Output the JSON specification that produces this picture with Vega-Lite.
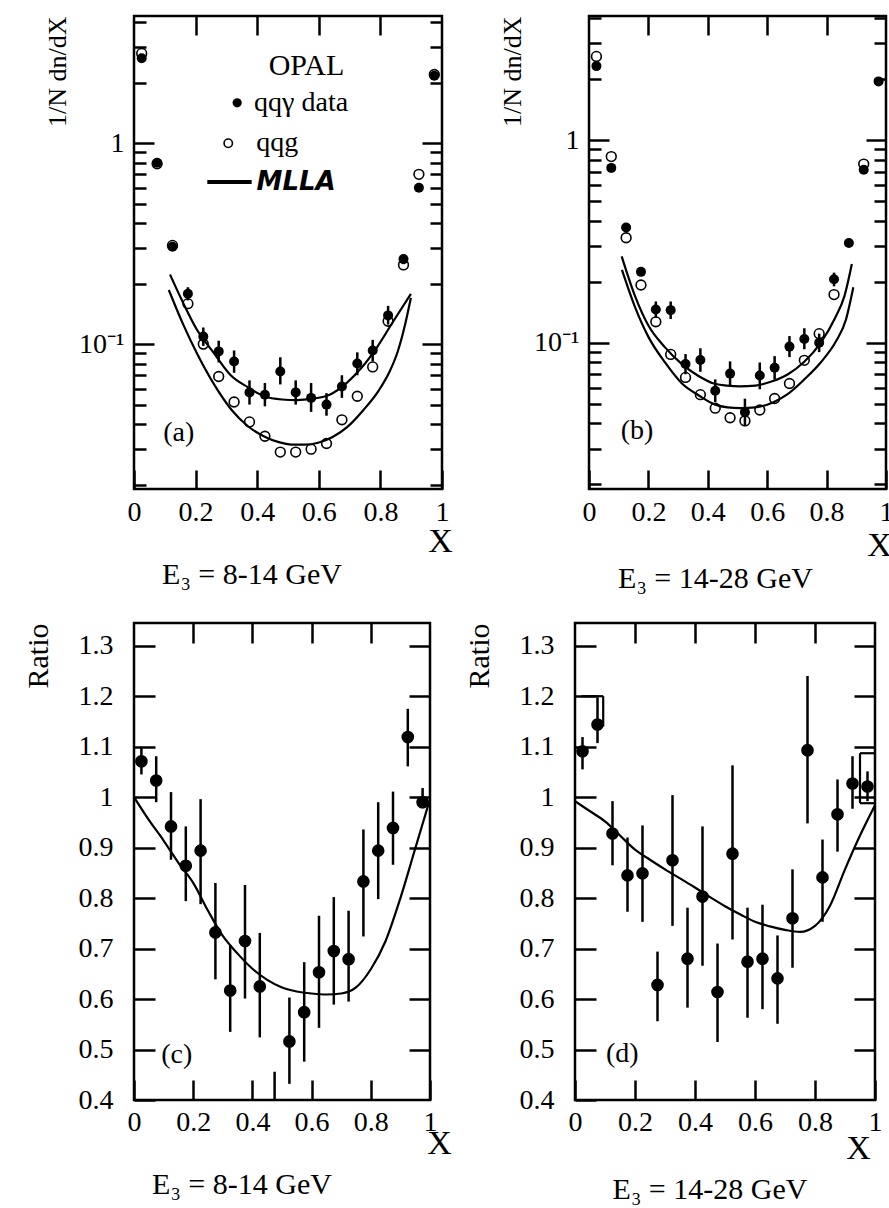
{
  "$schema": "https://vega.github.io/schema/vega-lite/v6.json",
  "background": "white",
  "padding": {"left": 21, "top": 2, "right": 0, "bottom": 0},
  "config": {
    "font": "Liberation Serif",
    "view": {"stroke": "black", "strokeWidth": 2.5},
    "axis": {"domain": false, "grid": false, "tickColor": "black", "tickWidth": 2.5, "labelColor": "black", "titleColor": "black", "labelFont": "Liberation Serif", "titleFont": "Liberation Serif", "labelFontSize": 28, "titleFontWeight": "normal", "labelFlush": false, "labelOverlap": false},
    "title": {"font": "Liberation Serif", "fontSize": 30, "fontWeight": "normal", "color": "black"},
    "text": {"font": "Liberation Serif", "color": "black"}
  },
  "datasets": {
    "a_pts": [
      {"x": 0.025, "data": 2.65, "lo": 2.65, "hi": 2.65, "qqg": 2.8},
      {"x": 0.075, "data": 0.80, "lo": 0.80, "hi": 0.80, "qqg": 0.79},
      {"x": 0.125, "data": 0.305, "lo": 0.305, "hi": 0.305, "qqg": 0.31},
      {"x": 0.175, "data": 0.178, "lo": 0.165, "hi": 0.192, "qqg": 0.159},
      {"x": 0.225, "data": 0.109, "lo": 0.098, "hi": 0.121, "qqg": 0.100},
      {"x": 0.275, "data": 0.092, "lo": 0.081, "hi": 0.104, "qqg": 0.069},
      {"x": 0.325, "data": 0.082, "lo": 0.072, "hi": 0.093, "qqg": 0.0515},
      {"x": 0.375, "data": 0.0575, "lo": 0.050, "hi": 0.066, "qqg": 0.041},
      {"x": 0.425, "data": 0.056, "lo": 0.049, "hi": 0.064, "qqg": 0.0348},
      {"x": 0.475, "data": 0.073, "lo": 0.063, "hi": 0.086, "qqg": 0.029},
      {"x": 0.525, "data": 0.0575, "lo": 0.050, "hi": 0.066, "qqg": 0.029},
      {"x": 0.575, "data": 0.054, "lo": 0.046, "hi": 0.064, "qqg": 0.030},
      {"x": 0.625, "data": 0.050, "lo": 0.044, "hi": 0.057, "qqg": 0.032},
      {"x": 0.675, "data": 0.0615, "lo": 0.054, "hi": 0.070, "qqg": 0.042},
      {"x": 0.725, "data": 0.080, "lo": 0.070, "hi": 0.091, "qqg": 0.055},
      {"x": 0.775, "data": 0.093, "lo": 0.082, "hi": 0.105, "qqg": 0.077},
      {"x": 0.825, "data": 0.139, "lo": 0.125, "hi": 0.155, "qqg": 0.130},
      {"x": 0.875, "data": 0.265, "lo": 0.25, "hi": 0.28, "qqg": 0.248},
      {"x": 0.925, "data": 0.60, "lo": 0.60, "hi": 0.60, "qqg": 0.70},
      {"x": 0.975, "data": 2.17, "lo": 2.17, "hi": 2.17, "qqg": 2.2}
    ],
    "a_curves": [
      {"curve": "data", "x": 0.117, "y": 0.222}, {"curve": "data", "x": 0.16, "y": 0.16}, {"curve": "data", "x": 0.203, "y": 0.119}, {"curve": "data", "x": 0.26, "y": 0.09}, {"curve": "data", "x": 0.314, "y": 0.070}, {"curve": "data", "x": 0.37, "y": 0.061}, {"curve": "data", "x": 0.423, "y": 0.055}, {"curve": "data", "x": 0.48, "y": 0.053}, {"curve": "data", "x": 0.529, "y": 0.0526}, {"curve": "data", "x": 0.58, "y": 0.0535}, {"curve": "data", "x": 0.635, "y": 0.056}, {"curve": "data", "x": 0.69, "y": 0.064}, {"curve": "data", "x": 0.74, "y": 0.0767}, {"curve": "data", "x": 0.79, "y": 0.097}, {"curve": "data", "x": 0.842, "y": 0.130}, {"curve": "data", "x": 0.899, "y": 0.178},
      {"curve": "qqg", "x": 0.113, "y": 0.186}, {"curve": "qqg", "x": 0.16, "y": 0.125}, {"curve": "qqg", "x": 0.205, "y": 0.0895}, {"curve": "qqg", "x": 0.26, "y": 0.063}, {"curve": "qqg", "x": 0.317, "y": 0.047}, {"curve": "qqg", "x": 0.37, "y": 0.039}, {"curve": "qqg", "x": 0.426, "y": 0.0345}, {"curve": "qqg", "x": 0.47, "y": 0.0325}, {"curve": "qqg", "x": 0.512, "y": 0.0316}, {"curve": "qqg", "x": 0.555, "y": 0.0316}, {"curve": "qqg", "x": 0.598, "y": 0.0323}, {"curve": "qqg", "x": 0.645, "y": 0.0345}, {"curve": "qqg", "x": 0.692, "y": 0.0386}, {"curve": "qqg", "x": 0.745, "y": 0.047}, {"curve": "qqg", "x": 0.795, "y": 0.0589}, {"curve": "qqg", "x": 0.83, "y": 0.073}, {"curve": "qqg", "x": 0.856, "y": 0.0916}, {"curve": "qqg", "x": 0.88, "y": 0.125}, {"curve": "qqg", "x": 0.899, "y": 0.17}
    ],
    "b_pts": [
      {"x": 0.025, "data": 2.32, "lo": 2.32, "hi": 2.32, "qqg": 2.59},
      {"x": 0.075, "data": 0.73, "lo": 0.73, "hi": 0.73, "qqg": 0.83},
      {"x": 0.125, "data": 0.371, "lo": 0.371, "hi": 0.371, "qqg": 0.33},
      {"x": 0.175, "data": 0.224, "lo": 0.224, "hi": 0.224, "qqg": 0.193},
      {"x": 0.225, "data": 0.146, "lo": 0.133, "hi": 0.16, "qqg": 0.127},
      {"x": 0.275, "data": 0.145, "lo": 0.131, "hi": 0.16, "qqg": 0.0877},
      {"x": 0.325, "data": 0.0787, "lo": 0.07, "hi": 0.088, "qqg": 0.0675},
      {"x": 0.375, "data": 0.0822, "lo": 0.072, "hi": 0.094, "qqg": 0.0555},
      {"x": 0.425, "data": 0.058, "lo": 0.051, "hi": 0.066, "qqg": 0.0476},
      {"x": 0.475, "data": 0.0705, "lo": 0.061, "hi": 0.081, "qqg": 0.0427},
      {"x": 0.525, "data": 0.0455, "lo": 0.039, "hi": 0.053, "qqg": 0.0412},
      {"x": 0.575, "data": 0.069, "lo": 0.059, "hi": 0.08, "qqg": 0.0466},
      {"x": 0.625, "data": 0.0753, "lo": 0.066, "hi": 0.086, "qqg": 0.0531},
      {"x": 0.675, "data": 0.0958, "lo": 0.085, "hi": 0.108, "qqg": 0.063},
      {"x": 0.725, "data": 0.1045, "lo": 0.093, "hi": 0.118, "qqg": 0.082},
      {"x": 0.775, "data": 0.10, "lo": 0.09, "hi": 0.111, "qqg": 0.111},
      {"x": 0.825, "data": 0.206, "lo": 0.19, "hi": 0.222, "qqg": 0.173},
      {"x": 0.875, "data": 0.311, "lo": 0.311, "hi": 0.311, "qqg": null},
      {"x": 0.925, "data": 0.714, "lo": 0.714, "hi": 0.714, "qqg": 0.762},
      {"x": 0.975, "data": 1.95, "lo": 1.95, "hi": 1.95, "qqg": null}
    ],
    "b_curves": [
      {"curve": "data", "x": 0.11, "y": 0.267}, {"curve": "data", "x": 0.155, "y": 0.17}, {"curve": "data", "x": 0.2, "y": 0.1217}, {"curve": "data", "x": 0.256, "y": 0.095}, {"curve": "data", "x": 0.312, "y": 0.0787}, {"curve": "data", "x": 0.366, "y": 0.069}, {"curve": "data", "x": 0.42, "y": 0.063}, {"curve": "data", "x": 0.465, "y": 0.0615}, {"curve": "data", "x": 0.508, "y": 0.061}, {"curve": "data", "x": 0.56, "y": 0.0615}, {"curve": "data", "x": 0.617, "y": 0.0646}, {"curve": "data", "x": 0.67, "y": 0.07}, {"curve": "data", "x": 0.724, "y": 0.0804}, {"curve": "data", "x": 0.78, "y": 0.1}, {"curve": "data", "x": 0.829, "y": 0.133}, {"curve": "data", "x": 0.86, "y": 0.17}, {"curve": "data", "x": 0.885, "y": 0.245},
      {"curve": "qqg", "x": 0.111, "y": 0.229}, {"curve": "qqg", "x": 0.155, "y": 0.15}, {"curve": "qqg", "x": 0.2, "y": 0.107}, {"curve": "qqg", "x": 0.256, "y": 0.08}, {"curve": "qqg", "x": 0.313, "y": 0.063}, {"curve": "qqg", "x": 0.37, "y": 0.055}, {"curve": "qqg", "x": 0.423, "y": 0.0497}, {"curve": "qqg", "x": 0.466, "y": 0.048}, {"curve": "qqg", "x": 0.51, "y": 0.0476}, {"curve": "qqg", "x": 0.56, "y": 0.048}, {"curve": "qqg", "x": 0.619, "y": 0.0508}, {"curve": "qqg", "x": 0.67, "y": 0.056}, {"curve": "qqg", "x": 0.725, "y": 0.066}, {"curve": "qqg", "x": 0.78, "y": 0.08}, {"curve": "qqg", "x": 0.832, "y": 0.102}, {"curve": "qqg", "x": 0.865, "y": 0.13}, {"curve": "qqg", "x": 0.89, "y": 0.188}
    ],
    "c_pts": [
      {"x": 0.025, "ratio": 1.071, "lo": 1.045, "hi": 1.099},
      {"x": 0.075, "ratio": 1.033, "lo": 0.99, "hi": 1.081},
      {"x": 0.125, "ratio": 0.942, "lo": 0.876, "hi": 1.01},
      {"x": 0.175, "ratio": 0.864, "lo": 0.794, "hi": 0.942},
      {"x": 0.225, "ratio": 0.894, "lo": 0.788, "hi": 0.996},
      {"x": 0.275, "ratio": 0.732, "lo": 0.639, "hi": 0.83},
      {"x": 0.325, "ratio": 0.617, "lo": 0.535, "hi": 0.707},
      {"x": 0.375, "ratio": 0.715, "lo": 0.601, "hi": 0.826},
      {"x": 0.425, "ratio": 0.625, "lo": 0.524, "hi": 0.731},
      {"x": 0.475, "ratio": 0.35, "lo": 0.25, "hi": 0.456},
      {"x": 0.525, "ratio": 0.516, "lo": 0.432, "hi": 0.603},
      {"x": 0.575, "ratio": 0.574, "lo": 0.476, "hi": 0.673},
      {"x": 0.625, "ratio": 0.653, "lo": 0.543, "hi": 0.765},
      {"x": 0.675, "ratio": 0.695, "lo": 0.589, "hi": 0.802},
      {"x": 0.725, "ratio": 0.679, "lo": 0.595, "hi": 0.775},
      {"x": 0.775, "ratio": 0.833, "lo": 0.724, "hi": 0.936},
      {"x": 0.825, "ratio": 0.894, "lo": 0.798, "hi": 0.99},
      {"x": 0.875, "ratio": 0.939, "lo": 0.866, "hi": 1.011},
      {"x": 0.925, "ratio": 1.119, "lo": 1.061, "hi": 1.175},
      {"x": 0.975, "ratio": 0.99, "lo": 0.978, "hi": 1.018}
    ],
    "c_curve": [
      {"x": 0.0, "y": 1.0}, {"x": 0.05, "y": 0.955}, {"x": 0.1, "y": 0.914}, {"x": 0.15, "y": 0.87}, {"x": 0.2, "y": 0.83}, {"x": 0.25, "y": 0.775}, {"x": 0.3, "y": 0.725}, {"x": 0.35, "y": 0.69}, {"x": 0.4, "y": 0.66}, {"x": 0.45, "y": 0.638}, {"x": 0.5, "y": 0.623}, {"x": 0.55, "y": 0.615}, {"x": 0.6, "y": 0.611}, {"x": 0.65, "y": 0.609}, {"x": 0.7, "y": 0.611}, {"x": 0.75, "y": 0.623}, {"x": 0.8, "y": 0.659}, {"x": 0.85, "y": 0.715}, {"x": 0.9, "y": 0.80}, {"x": 0.95, "y": 0.898}, {"x": 1.0, "y": 0.996}
    ],
    "d_pts": [
      {"x": 0.025, "ratio": 1.091, "lo": 1.055, "hi": 1.119},
      {"x": 0.075, "ratio": 1.144, "lo": 1.107, "hi": 1.198},
      {"x": 0.125, "ratio": 0.928, "lo": 0.865, "hi": 0.992},
      {"x": 0.175, "ratio": 0.845, "lo": 0.773, "hi": 0.92},
      {"x": 0.225, "ratio": 0.849, "lo": 0.753, "hi": 0.944},
      {"x": 0.275, "ratio": 0.628, "lo": 0.556, "hi": 0.694},
      {"x": 0.325, "ratio": 0.875, "lo": 0.745, "hi": 1.004},
      {"x": 0.375, "ratio": 0.68, "lo": 0.583, "hi": 0.781},
      {"x": 0.425, "ratio": 0.803, "lo": 0.666, "hi": 0.942},
      {"x": 0.475, "ratio": 0.614, "lo": 0.515, "hi": 0.71},
      {"x": 0.525, "ratio": 0.888, "lo": 0.718, "hi": 1.063},
      {"x": 0.575, "ratio": 0.674, "lo": 0.563, "hi": 0.781},
      {"x": 0.625, "ratio": 0.68, "lo": 0.58, "hi": 0.787},
      {"x": 0.675, "ratio": 0.641, "lo": 0.551, "hi": 0.726},
      {"x": 0.725, "ratio": 0.76, "lo": 0.662, "hi": 0.857},
      {"x": 0.775, "ratio": 1.093, "lo": 0.948, "hi": 1.24},
      {"x": 0.825, "ratio": 0.841, "lo": 0.753, "hi": 0.916},
      {"x": 0.875, "ratio": 0.966, "lo": 0.892, "hi": 1.035},
      {"x": 0.925, "ratio": 1.027, "lo": 0.977, "hi": 1.081},
      {"x": 0.975, "ratio": 1.021, "lo": 0.992, "hi": 1.051}
    ],
    "d_curve": [
      {"x": 0.0, "y": 0.992}, {"x": 0.05, "y": 0.972}, {"x": 0.1, "y": 0.952}, {"x": 0.15, "y": 0.924}, {"x": 0.2, "y": 0.896}, {"x": 0.25, "y": 0.876}, {"x": 0.3, "y": 0.857}, {"x": 0.35, "y": 0.839}, {"x": 0.4, "y": 0.821}, {"x": 0.45, "y": 0.802}, {"x": 0.5, "y": 0.784}, {"x": 0.55, "y": 0.768}, {"x": 0.6, "y": 0.753}, {"x": 0.65, "y": 0.744}, {"x": 0.7, "y": 0.737}, {"x": 0.75, "y": 0.733}, {"x": 0.8, "y": 0.745}, {"x": 0.85, "y": 0.785}, {"x": 0.9, "y": 0.857}, {"x": 0.95, "y": 0.924}, {"x": 1.0, "y": 0.984}
    ],
    "d_brackets": [
      {"x": 0.022, "x2": 0.094, "y": 1.2, "y2": 1.2},
      {"x": 0.094, "x2": 0.094, "y": 1.2, "y2": 1.14},
      {"x": 0.95, "x2": 1.0, "y": 1.087, "y2": 1.087},
      {"x": 0.95, "x2": 0.95, "y": 1.087, "y2": 0.988},
      {"x": 0.95, "x2": 1.0, "y": 0.988, "y2": 0.988}
    ]
  },
  "spacing": 24,
  "vconcat": [
    {
      "bounds": "flush",
      "spacing": 147,
      "hconcat": [
        {
          "width": 308, "height": 473,
          "title": {"text": "E₃ = 8-14 GeV", "orient": "bottom", "dx": -36, "offset": 2},
          "resolve": {"axis": {"x": "independent", "y": "independent"}},
          "layer": [
            {"data": {"name": "a_curves"}, "mark": {"type": "line", "color": "black", "strokeWidth": 2.2, "interpolate": "monotone", "clip": true},
             "encoding": {
               "x": {"field": "x", "type": "quantitative", "scale": {"domain": [0, 1], "nice": false, "zero": false}, "axis": {"orient": "top", "values": [0.2, 0.4, 0.6, 0.8], "tickSize": -19, "labels": false, "title": null}},
               "y": {"field": "y", "type": "quantitative", "scale": {"type": "log", "domain": [0.019, 4.3], "nice": false}, "axis": {"orient": "right", "values": [0.02,0.03,0.04,0.05,0.06,0.07,0.08,0.09,0.1,0.2,0.3,0.4,0.5,0.6,0.7,0.8,0.9,1,2,3,4], "labels": false, "title": null, "tickSize": {"condition": {"test": "(datum.value > 0.999 && datum.value < 1.001) || (datum.value > 0.0999 && datum.value < 0.1001)", "value": -20}, "value": -12}}},
               "detail": {"field": "curve", "type": "nominal"}}},
            {"data": {"name": "a_pts"}, "mark": {"type": "rule", "color": "black", "strokeWidth": 2.5, "clip": true},
             "encoding": {
               "x": {"field": "x", "type": "quantitative", "scale": {"domain": [0, 1], "nice": false, "zero": false}, "axis": {"orient": "bottom", "values": [0, 0.2, 0.4, 0.6, 0.8, 1], "format": "~g", "tickSize": -19, "labelPadding": 28, "title": "X", "titleX": 306, "titleY": 52, "titleAlign": "center", "titleBaseline": "middle", "titleFontSize": 34}},
               "y": {"field": "lo", "type": "quantitative", "scale": {"type": "log", "domain": [0.019, 4.3], "nice": false}, "axis": {"orient": "left", "values": [0.02,0.03,0.04,0.05,0.06,0.07,0.08,0.09,0.1,0.2,0.3,0.4,0.5,0.6,0.7,0.8,0.9,1,2,3,4], "labelExpr": "(datum.value > 0.999 && datum.value < 1.001) ? '1' : ((datum.value > 0.0999 && datum.value < 0.1001) ? '10⁻¹' : '')", "tickSize": {"condition": {"test": "(datum.value > 0.999 && datum.value < 1.001) || (datum.value > 0.0999 && datum.value < 0.1001)", "value": -20}, "value": -12}, "labelPadding": 30, "title": "1/N dn/dX", "titleAnchor": "end", "titleFontSize": 26, "titlePadding": 8}},
               "y2": {"field": "hi"}}},
            {"data": {"name": "a_pts"}, "mark": {"type": "point", "filled": false, "color": "black", "strokeWidth": 1.6, "size": 95, "opacity": 1, "clip": true},
             "encoding": {
               "x": {"field": "x", "type": "quantitative", "scale": {"domain": [0, 1], "nice": false, "zero": false}, "axis": null},
               "y": {"field": "qqg", "type": "quantitative", "scale": {"type": "log", "domain": [0.019, 4.3], "nice": false}, "axis": null}}},
            {"data": {"name": "a_pts"}, "mark": {"type": "circle", "color": "black", "size": 100, "opacity": 1, "clip": true},
             "encoding": {
               "x": {"field": "x", "type": "quantitative", "scale": {"domain": [0, 1], "nice": false, "zero": false}, "axis": null},
               "y": {"field": "data", "type": "quantitative", "scale": {"type": "log", "domain": [0.019, 4.3], "nice": false}, "axis": null}}},
            {"data": {"values": [{}]}, "mark": {"type": "text", "text": "(a)", "align": "left", "baseline": "middle", "fontSize": 28},
             "encoding": {"x": {"datum": 0.095, "type": "quantitative", "axis": null}, "y": {"datum": 0.036, "type": "quantitative", "axis": null}}},
            {"data": {"values": [{}]}, "mark": {"type": "text", "text": "OPAL", "align": "center", "baseline": "middle", "fontSize": 30},
             "encoding": {"x": {"datum": 0.56, "type": "quantitative", "axis": null}, "y": {"datum": 2.43, "type": "quantitative", "axis": null}}},
            {"data": {"values": [{}]}, "mark": {"type": "circle", "color": "black", "size": 85, "opacity": 1},
             "encoding": {"x": {"datum": 0.335, "type": "quantitative", "axis": null}, "y": {"datum": 1.59, "type": "quantitative", "axis": null}}},
            {"data": {"values": [{}]}, "mark": {"type": "text", "text": "qqγ data", "align": "left", "baseline": "middle", "fontSize": 28},
             "encoding": {"x": {"datum": 0.39, "type": "quantitative", "axis": null}, "y": {"datum": 1.59, "type": "quantitative", "axis": null}}},
            {"data": {"values": [{}]}, "mark": {"type": "point", "filled": false, "color": "black", "strokeWidth": 1.6, "size": 70, "opacity": 1},
             "encoding": {"x": {"datum": 0.306, "type": "quantitative", "axis": null}, "y": {"datum": 1.0, "type": "quantitative", "axis": null}}},
            {"data": {"values": [{}]}, "mark": {"type": "text", "text": "qqg", "align": "left", "baseline": "middle", "fontSize": 28},
             "encoding": {"x": {"datum": 0.397, "type": "quantitative", "axis": null}, "y": {"datum": 1.0, "type": "quantitative", "axis": null}}},
            {"data": {"values": [{}]}, "mark": {"type": "rule", "color": "black", "strokeWidth": 4},
             "encoding": {"x": {"datum": 0.238, "type": "quantitative", "axis": null}, "x2": {"datum": 0.382}, "y": {"datum": 0.642, "type": "quantitative", "axis": null}}},
            {"data": {"values": [{}]}, "mark": {"type": "text", "text": "MLLA", "align": "left", "baseline": "middle", "fontSize": 26, "font": "DejaVu Sans", "fontStyle": "italic", "fontWeight": "bold"},
             "encoding": {"x": {"datum": 0.398, "type": "quantitative", "axis": null}, "y": {"datum": 0.642, "type": "quantitative", "axis": null}}}
          ]
        },
        {
          "width": 297, "height": 473,
          "title": {"text": "E₃ = 14-28 GeV", "orient": "bottom", "dx": -22, "offset": 2},
          "resolve": {"axis": {"x": "independent", "y": "independent"}},
          "layer": [
            {"data": {"name": "b_curves"}, "mark": {"type": "line", "color": "black", "strokeWidth": 2.2, "interpolate": "monotone", "clip": true},
             "encoding": {
               "x": {"field": "x", "type": "quantitative", "scale": {"domain": [0, 1], "nice": false, "zero": false}, "axis": {"orient": "top", "values": [0.2, 0.4, 0.6, 0.8], "tickSize": -19, "labels": false, "title": null}},
               "y": {"field": "y", "type": "quantitative", "scale": {"type": "log", "domain": [0.019, 4.1], "nice": false}, "axis": {"orient": "right", "values": [0.02,0.03,0.04,0.05,0.06,0.07,0.08,0.09,0.1,0.2,0.3,0.4,0.5,0.6,0.7,0.8,0.9,1,2,3,4], "labels": false, "title": null, "tickSize": {"condition": {"test": "(datum.value > 0.999 && datum.value < 1.001) || (datum.value > 0.0999 && datum.value < 0.1001)", "value": -20}, "value": -12}}},
               "detail": {"field": "curve", "type": "nominal"}}},
            {"data": {"name": "b_pts"}, "mark": {"type": "rule", "color": "black", "strokeWidth": 2.5, "clip": true},
             "encoding": {
               "x": {"field": "x", "type": "quantitative", "scale": {"domain": [0, 1], "nice": false, "zero": false}, "axis": {"orient": "bottom", "values": [0, 0.2, 0.4, 0.6, 0.8, 1], "format": "~g", "tickSize": -19, "labelPadding": 28, "title": "X", "titleX": 290, "titleY": 56, "titleAlign": "center", "titleBaseline": "middle", "titleFontSize": 34}},
               "y": {"field": "lo", "type": "quantitative", "scale": {"type": "log", "domain": [0.019, 4.1], "nice": false}, "axis": {"orient": "left", "values": [0.02,0.03,0.04,0.05,0.06,0.07,0.08,0.09,0.1,0.2,0.3,0.4,0.5,0.6,0.7,0.8,0.9,1,2,3,4], "labelExpr": "(datum.value > 0.999 && datum.value < 1.001) ? '1' : ((datum.value > 0.0999 && datum.value < 0.1001) ? '10⁻¹' : '')", "tickSize": {"condition": {"test": "(datum.value > 0.999 && datum.value < 1.001) || (datum.value > 0.0999 && datum.value < 0.1001)", "value": -20}, "value": -12}, "labelPadding": 30, "title": "1/N dn/dX", "titleAnchor": "end", "titleFontSize": 26, "titlePadding": 8}},
               "y2": {"field": "hi"}}},
            {"data": {"name": "b_pts"}, "mark": {"type": "point", "filled": false, "color": "black", "strokeWidth": 1.6, "size": 95, "opacity": 1, "clip": true},
             "encoding": {
               "x": {"field": "x", "type": "quantitative", "scale": {"domain": [0, 1], "nice": false, "zero": false}, "axis": null},
               "y": {"field": "qqg", "type": "quantitative", "scale": {"type": "log", "domain": [0.019, 4.1], "nice": false}, "axis": null}}},
            {"data": {"name": "b_pts"}, "mark": {"type": "circle", "color": "black", "size": 100, "opacity": 1, "clip": true},
             "encoding": {
               "x": {"field": "x", "type": "quantitative", "scale": {"domain": [0, 1], "nice": false, "zero": false}, "axis": null},
               "y": {"field": "data", "type": "quantitative", "scale": {"type": "log", "domain": [0.019, 4.1], "nice": false}, "axis": null}}},
            {"data": {"values": [{}]}, "mark": {"type": "text", "text": "(b)", "align": "left", "baseline": "middle", "fontSize": 28},
             "encoding": {"x": {"datum": 0.107, "type": "quantitative", "axis": null}, "y": {"datum": 0.0366, "type": "quantitative", "axis": null}}}
          ]
        }
      ]
    },
    {
      "bounds": "flush",
      "spacing": 145,
      "hconcat": [
        {
          "width": 296, "height": 477,
          "title": {"text": "E₃ = 8-14 GeV", "orient": "bottom", "dx": -40, "offset": 10},
          "resolve": {"axis": {"x": "independent", "y": "independent"}},
          "layer": [
            {"data": {"name": "c_curve"}, "mark": {"type": "line", "color": "black", "strokeWidth": 2.2, "interpolate": "monotone", "clip": true},
             "encoding": {
               "x": {"field": "x", "type": "quantitative", "scale": {"domain": [0, 1], "nice": false, "zero": false}, "axis": {"orient": "top", "values": [0.2, 0.4, 0.6, 0.8], "tickSize": -20, "labels": false, "title": null}},
               "y": {"field": "y", "type": "quantitative", "scale": {"domain": [0.4, 1.345], "nice": false, "zero": false}, "axis": {"orient": "right", "values": [0.5, 0.6, 0.7, 0.8, 0.9, 1, 1.1, 1.2, 1.3], "labels": false, "title": null, "tickSize": -21}}}},
            {"data": {"name": "c_pts"}, "mark": {"type": "rule", "color": "black", "strokeWidth": 2.5, "clip": true},
             "encoding": {
               "x": {"field": "x", "type": "quantitative", "scale": {"domain": [0, 1], "nice": false, "zero": false}, "axis": {"orient": "bottom", "values": [0, 0.2, 0.4, 0.6, 0.8, 1], "format": "~g", "tickSize": -20, "labelPadding": 28, "title": "X", "titleX": 305, "titleY": 43, "titleAlign": "center", "titleBaseline": "middle", "titleFontSize": 34}},
               "y": {"field": "lo", "type": "quantitative", "scale": {"domain": [0.4, 1.345], "nice": false, "zero": false}, "axis": {"orient": "left", "values": [0.4, 0.5, 0.6, 0.7, 0.8, 0.9, 1, 1.1, 1.2, 1.3], "format": "~g", "tickSize": -21, "labelPadding": 42, "title": "Ratio", "titleAnchor": "end", "titleFontSize": 30, "titlePadding": 25}},
               "y2": {"field": "hi"}}},
            {"data": {"name": "c_pts"}, "mark": {"type": "circle", "color": "black", "size": 160, "opacity": 1, "clip": true},
             "encoding": {
               "x": {"field": "x", "type": "quantitative", "scale": {"domain": [0, 1], "nice": false, "zero": false}, "axis": null},
               "y": {"field": "ratio", "type": "quantitative", "scale": {"domain": [0.4, 1.345], "nice": false, "zero": false}, "axis": null}}},
            {"data": {"values": [{}]}, "mark": {"type": "text", "text": "(c)", "align": "left", "baseline": "middle", "fontSize": 28},
             "encoding": {"x": {"datum": 0.092, "type": "quantitative", "axis": null}, "y": {"datum": 0.49, "type": "quantitative", "axis": null}}}
          ]
        },
        {
          "width": 300, "height": 477,
          "title": {"text": "E₃ = 14-28 GeV", "orient": "bottom", "dx": -15, "offset": 10},
          "resolve": {"axis": {"x": "independent", "y": "independent"}},
          "layer": [
            {"data": {"name": "d_curve"}, "mark": {"type": "line", "color": "black", "strokeWidth": 2.2, "interpolate": "monotone", "clip": true},
             "encoding": {
               "x": {"field": "x", "type": "quantitative", "scale": {"domain": [0, 1], "nice": false, "zero": false}, "axis": {"orient": "top", "values": [0.2, 0.4, 0.6, 0.8], "tickSize": -20, "labels": false, "title": null}},
               "y": {"field": "y", "type": "quantitative", "scale": {"domain": [0.4, 1.345], "nice": false, "zero": false}, "axis": {"orient": "right", "values": [0.5, 0.6, 0.7, 0.8, 0.9, 1, 1.1, 1.2, 1.3], "labels": false, "title": null, "tickSize": -21}}}},
            {"data": {"name": "d_brackets"}, "mark": {"type": "rule", "color": "black", "strokeWidth": 2.2, "clip": true},
             "encoding": {
               "x": {"field": "x", "type": "quantitative", "scale": {"domain": [0, 1], "nice": false, "zero": false}, "axis": null},
               "x2": {"field": "x2"},
               "y": {"field": "y", "type": "quantitative", "scale": {"domain": [0.4, 1.345], "nice": false, "zero": false}, "axis": null},
               "y2": {"field": "y2"}}},
            {"data": {"name": "d_pts"}, "mark": {"type": "rule", "color": "black", "strokeWidth": 2.5, "clip": true},
             "encoding": {
               "x": {"field": "x", "type": "quantitative", "scale": {"domain": [0, 1], "nice": false, "zero": false}, "axis": {"orient": "bottom", "values": [0, 0.2, 0.4, 0.6, 0.8, 1], "format": "~g", "tickSize": -20, "labelPadding": 28, "title": "X", "titleX": 283, "titleY": 48, "titleAlign": "center", "titleBaseline": "middle", "titleFontSize": 34}},
               "y": {"field": "lo", "type": "quantitative", "scale": {"domain": [0.4, 1.345], "nice": false, "zero": false}, "axis": {"orient": "left", "values": [0.4, 0.5, 0.6, 0.7, 0.8, 0.9, 1, 1.1, 1.2, 1.3], "format": "~g", "tickSize": -21, "labelPadding": 42, "title": "Ratio", "titleAnchor": "end", "titleFontSize": 30, "titlePadding": 25}},
               "y2": {"field": "hi"}}},
            {"data": {"name": "d_pts"}, "mark": {"type": "circle", "color": "black", "size": 160, "opacity": 1, "clip": true},
             "encoding": {
               "x": {"field": "x", "type": "quantitative", "scale": {"domain": [0, 1], "nice": false, "zero": false}, "axis": null},
               "y": {"field": "ratio", "type": "quantitative", "scale": {"domain": [0.4, 1.345], "nice": false, "zero": false}, "axis": null}}},
            {"data": {"values": [{}]}, "mark": {"type": "text", "text": "(d)", "align": "left", "baseline": "middle", "fontSize": 28},
             "encoding": {"x": {"datum": 0.103, "type": "quantitative", "axis": null}, "y": {"datum": 0.491, "type": "quantitative", "axis": null}}}
          ]
        }
      ]
    }
  ]
}
